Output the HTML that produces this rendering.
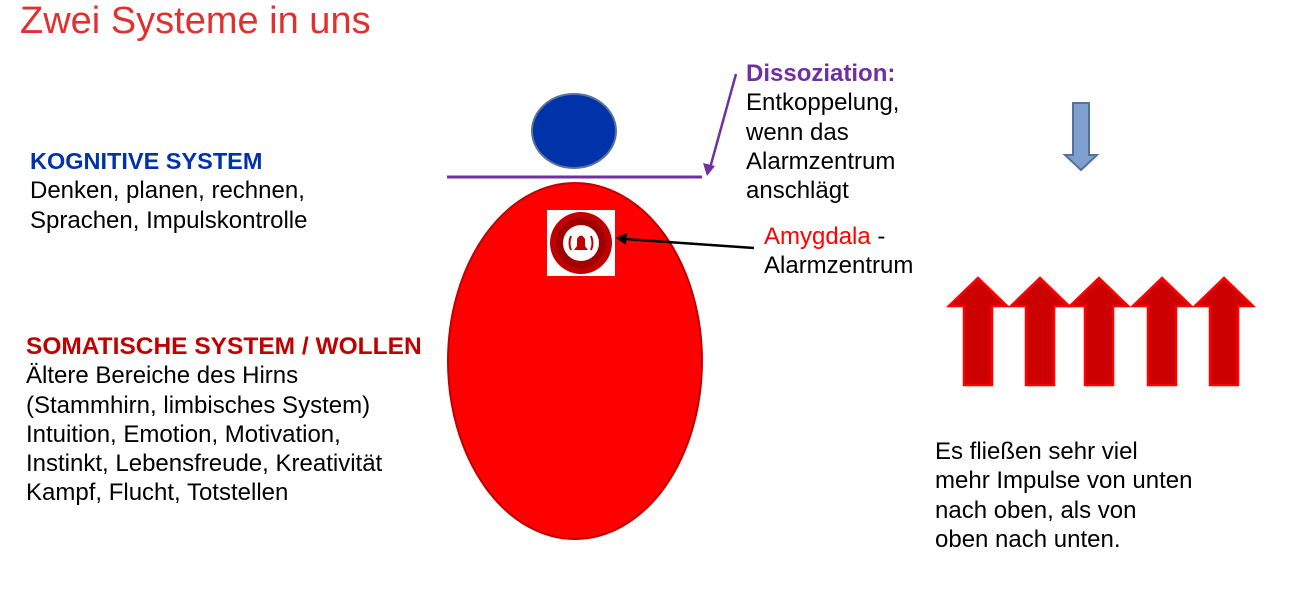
<!DOCTYPE html>
<html><head><meta charset="utf-8"><style>
body{margin:0;width:1293px;height:589px;background:#fff;position:relative;overflow:hidden;font-family:"Liberation Sans",Arial,sans-serif}
.t{position:absolute;font-size:24px;line-height:29.3px;color:#000;white-space:nowrap}
b{font-weight:bold}
</style></head><body>
<div style="position:absolute;left:20px;top:0px;font-size:38px;color:#e03030;white-space:nowrap">Zwei Systeme in uns</div>
<div class="t" style="left:30px;top:147px"><b style="color:#0033aa;font-size:23.5px">KOGNITIVE SYSTEM</b><br>Denken, planen, rechnen,<br>Sprachen, Impulskontrolle</div>
<div class="t" style="left:26px;top:332px"><b style="color:#c00000;font-size:24.5px">SOMATISCHE SYSTEM / WOLLEN</b><br>Ältere Bereiche des Hirns<br>(Stammhirn, limbisches System)<br>Intuition, Emotion, Motivation,<br>Instinkt, Lebensfreude, Kreativität<br>Kampf, Flucht, Totstellen</div>
<div class="t" style="left:746px;top:59px"><b style="color:#7030a0">Dissoziation:</b><br>Entkoppelung,<br>wenn das<br>Alarmzentrum<br>anschlägt</div>
<div class="t" style="left:764px;top:222px"><span style="color:#ff0000">Amygdala</span> -<br>Alarmzentrum</div>
<div class="t" style="left:935px;top:437px">Es fließen sehr viel<br>mehr Impulse von unten<br>nach oben, als von<br>oben nach unten.</div>
<svg width="1293" height="589" style="position:absolute;left:0;top:0">
<ellipse cx="575" cy="361" rx="127" ry="178" fill="#ff0000" stroke="#c00000" stroke-width="2"/>
<ellipse cx="574" cy="131" rx="42" ry="37" fill="#0033aa" stroke="#5a7399" stroke-width="2"/>
<line x1="447" y1="177" x2="702" y2="177" stroke="#7030a0" stroke-width="3"/>
<line x1="736" y1="74" x2="710" y2="168" stroke="#7030a0" stroke-width="2.5"/>
<polygon points="707,176 703,163 715,166" fill="#7030a0"/>
<rect x="547" y="210" width="68" height="66" fill="#fff"/>
<circle cx="581" cy="243" r="31" fill="#c00000"/>
<circle cx="581" cy="243" r="25" fill="#a00000"/>
<circle cx="581" cy="243" r="18" fill="#fff"/>
<path d="M574,250 L588,250 L585,246 L585,239 Q581,232 577,239 L577,246 Z" fill="#c00000"/>
<path d="M571,236 Q568,243 571,250 M591,236 Q594,243 591,250" stroke="#c00000" stroke-width="2" fill="none"/>
<line x1="754" y1="248" x2="625" y2="239" stroke="#000" stroke-width="2.5"/>
<polygon points="616,238 627,233 626,245" fill="#000"/>
<polygon points="1073,103 1089,103 1089,155 1097,155 1081,170 1065,155 1073,155" fill="#7f9fcf" stroke="#557099" stroke-width="2"/>
<g fill="#cc0000" stroke="#ff0000" stroke-width="2.5">
<polygon points="964,385 964,306 949,306 978,278 1007,306 992,306 992,385"/>
<polygon points="1026,385 1026,306 1011,306 1040,278 1069,306 1054,306 1054,385"/>
<polygon points="1085,385 1085,306 1070,306 1099,278 1128,306 1113,306 1113,385"/>
<polygon points="1148,385 1148,306 1133,306 1162,278 1191,306 1176,306 1176,385"/>
<polygon points="1210,385 1210,306 1195,306 1224,278 1253,306 1238,306 1238,385"/>
</g>
</svg>
</body></html>
